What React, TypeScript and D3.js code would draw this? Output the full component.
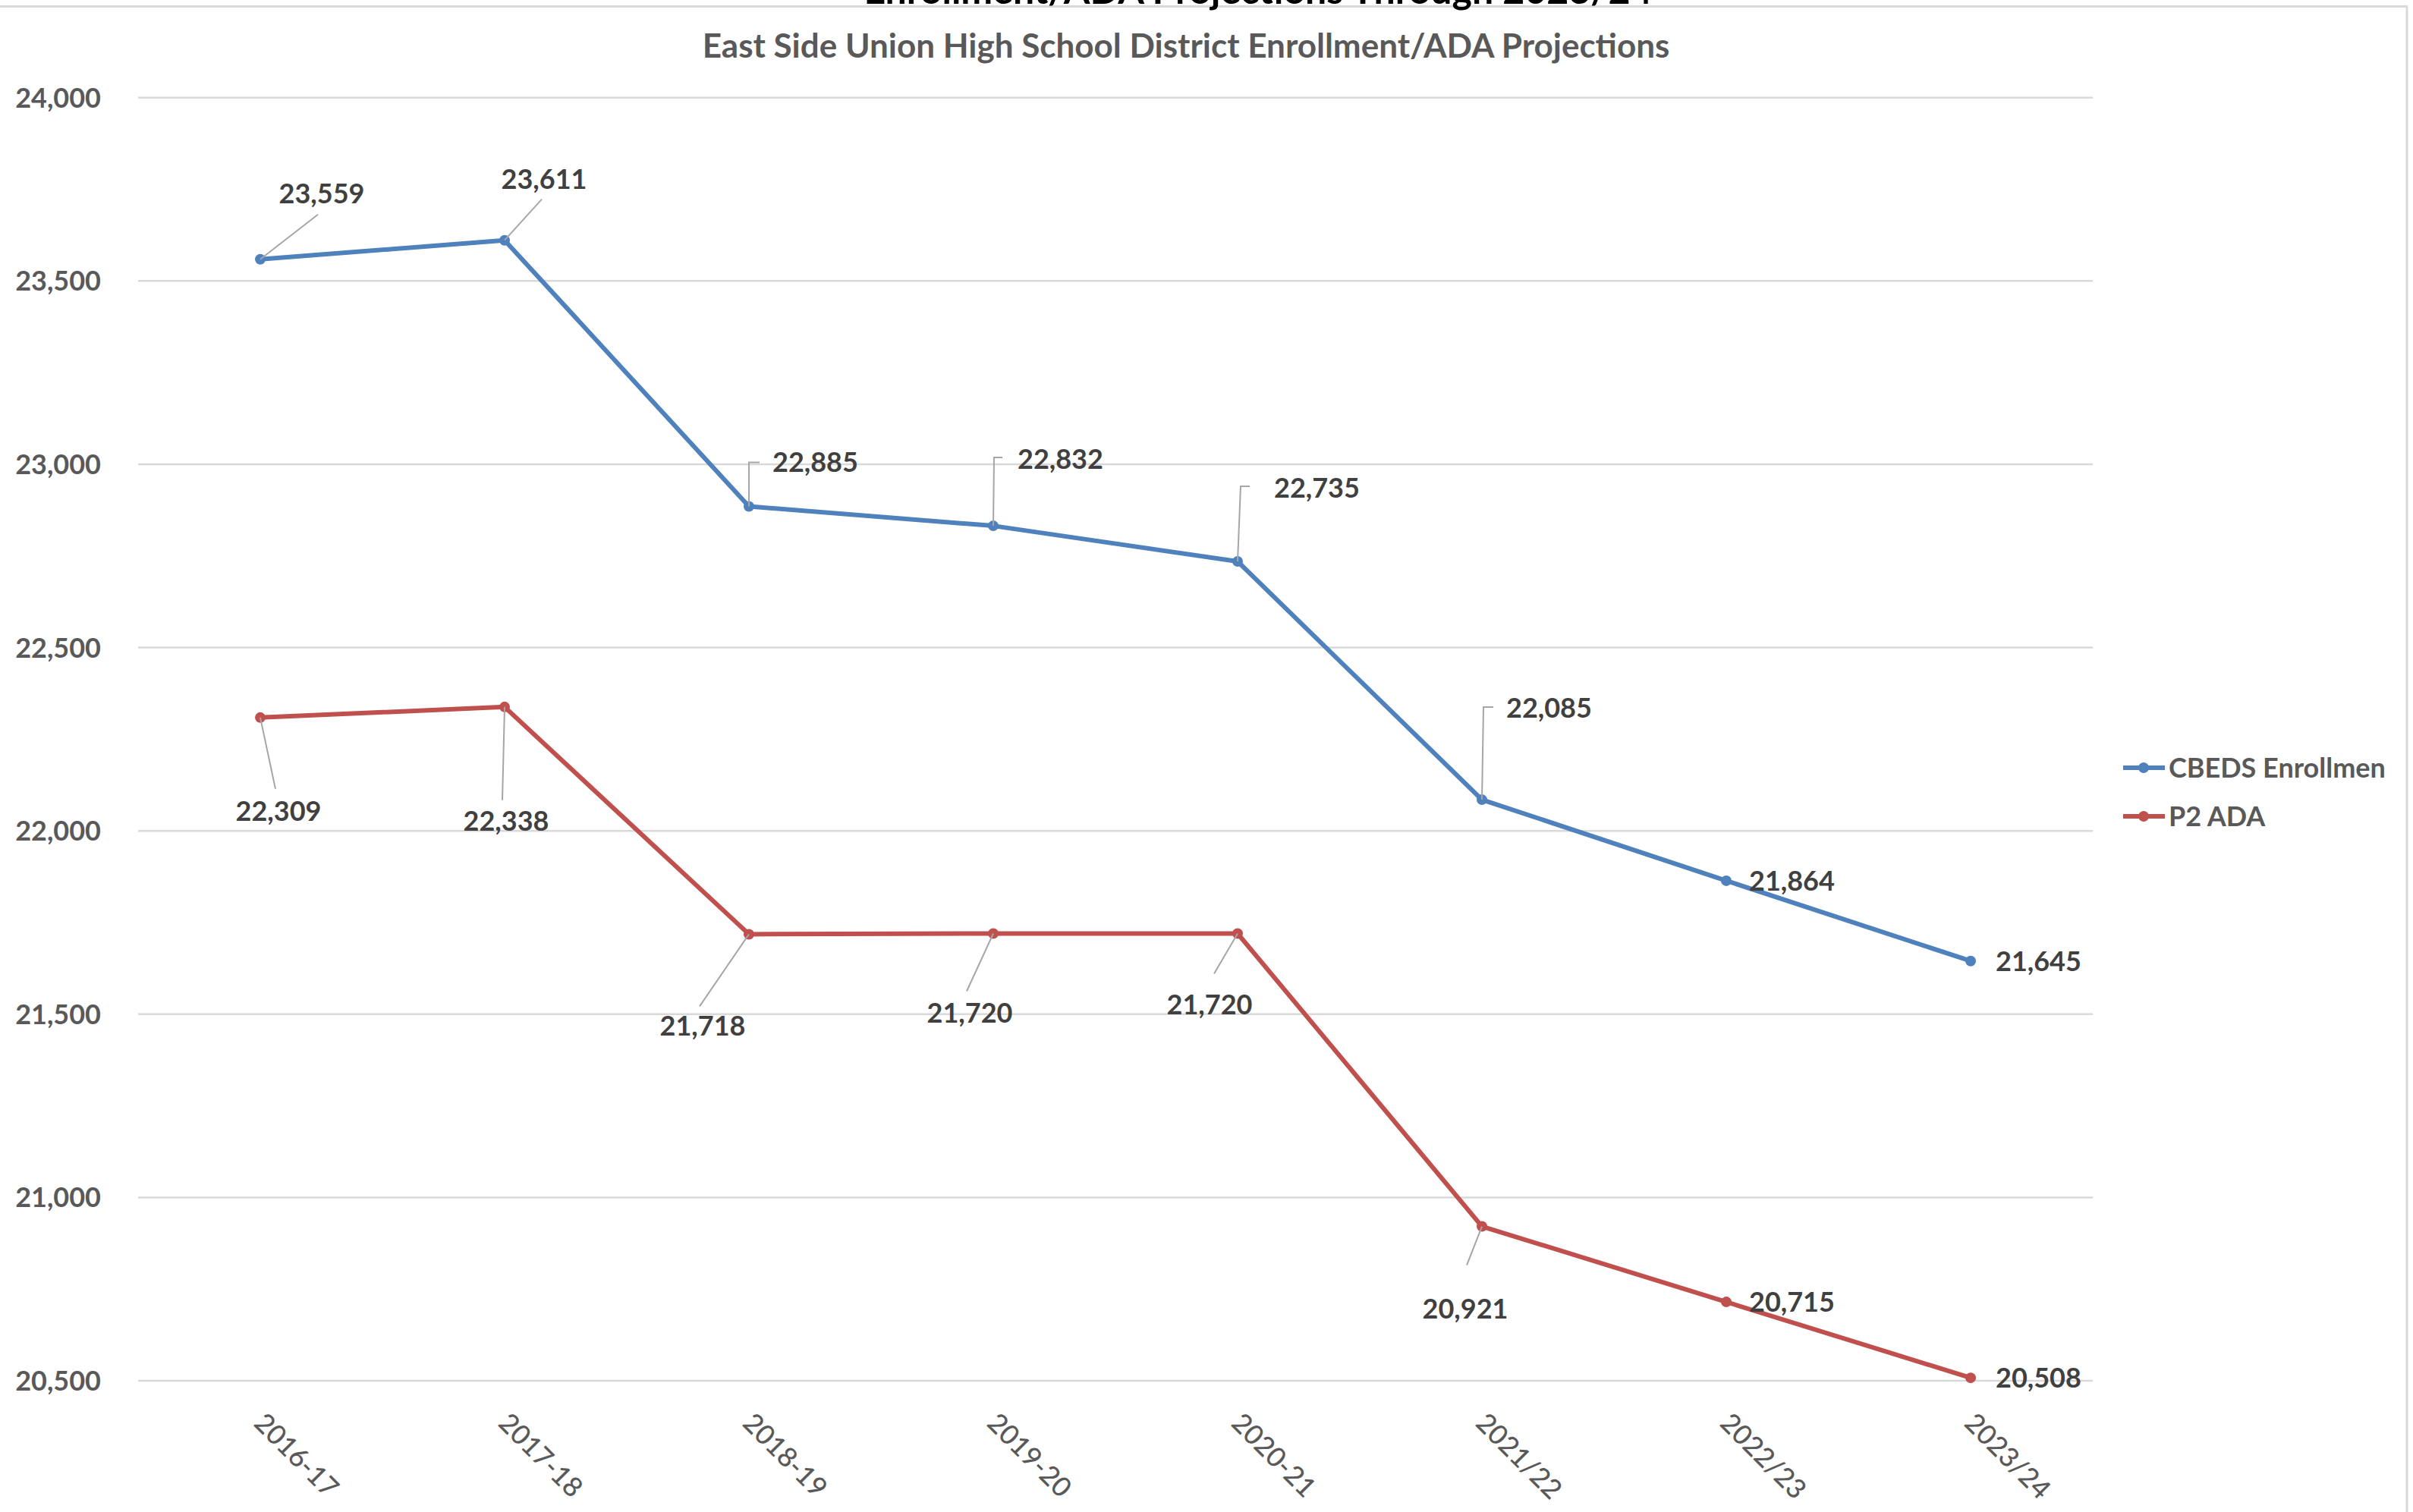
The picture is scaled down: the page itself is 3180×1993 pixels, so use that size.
import React from "react";
import * as d3 from "d3";

const W = 3180;
const H = 1993;
const PLOT = { LEFT: 182, RIGHT: 2758, TOP: 128.7, BOTTOM: 1820 };

const years = ["2016-17", "2017-18", "2018-19", "2019-20", "2020-21", "2021/22", "2022/23", "2023/24"];
const enrollment = [23559, 23611, 22885, 22832, 22735, 22085, 21864, 21645];
const p2ada = [22309, 22338, 21718, 21720, 21720, 20921, 20715, 20508];
const yDomain = [20500, 24000];

const TITLE = "Enrollment/ADA Projections Through 2023/24";
const SUBTITLE = "East Side Union High School District Enrollment/ADA Projections";

// where each data label sits relative to its point (Excel moved some by hand)
type LabelPos = { dx: number; dy: number; anchor: "start" | "middle"; leader?: number[][] };
const blueLabels: LabelPos[] = [
  { dx: 81, dy: -74, anchor: "middle", leader: [[76, -59]] },
  { dx: 52, dy: -68, anchor: "middle", leader: [[49, -54]] },
  { dx: 31, dy: -45, anchor: "start", leader: [[0, -58], [14, -58]] },
  { dx: 32, dy: -75, anchor: "start", leader: [[1, -90], [12, -90]] },
  { dx: 48, dy: -84, anchor: "start", leader: [[4, -99], [16, -99]] },
  { dx: 32, dy: -108, anchor: "start", leader: [[2, -122], [15, -122]] },
  { dx: 30, dy: 13, anchor: "start" },
  { dx: 33, dy: 13, anchor: "start" },
];
const redLabels: LabelPos[] = [
  { dx: 24, dy: 136, anchor: "middle", leader: [[20, 94]] },
  { dx: 2, dy: 163, anchor: "middle", leader: [[-3, 123]] },
  { dx: -61, dy: 134, anchor: "middle", leader: [[-65, 95]] },
  { dx: -31, dy: 118, anchor: "middle", leader: [[-35, 76]] },
  { dx: -37, dy: 107, anchor: "middle", leader: [[-31, 53]] },
  { dx: -22, dy: 121, anchor: "middle", leader: [[-20, 51]] },
  { dx: 30, dy: 13, anchor: "start" },
  { dx: 33, dy: 13, anchor: "start" },
];

const BLUE = "#4f81bd";
const RED = "#c0504d";
const FONT = "Lato, 'Open Sans', sans-serif";

const App: React.FC = () => {
  const x = d3.scalePoint<string>().domain(years).range([PLOT.LEFT, PLOT.RIGHT]).padding(0.5);
  const y = d3.scaleLinear().domain(yDomain).range([PLOT.BOTTOM, PLOT.TOP]);
  const fmt = d3.format(",");

  const series = [
    { name: "CBEDS Enrollmen", values: enrollment, color: BLUE, labels: blueLabels },
    { name: "P2 ADA", values: p2ada, color: RED, labels: redLabels },
  ];

  const line = d3
    .line<number>()
    .x((_, i) => x(years[i])!)
    .y((d) => y(d));

  return (
    <svg width={W} height={H} style={{ position: "absolute", left: 0, top: 0, background: "#fff" }} fontFamily={FONT}>
      {/* chart area border bits */}
      <line x1={0} x2={3173} y1={8.5} y2={8.5} stroke="#d9d9d9" strokeWidth={3} />
      <line x1={3172} x2={3172} y1={8.5} y2={H} stroke="#d9d9d9" strokeWidth={3} />

      <text x={1658} y={5} textAnchor="middle" fontSize={50} fontWeight={700} fill="#000">
        {TITLE}
      </text>
      <text x={1563} y={76} textAnchor="middle" fontSize={44} fontWeight={700} fill="#595959">
        {SUBTITLE}
      </text>

      {/* gridlines + y labels */}
      {y.ticks(7).map((t) => (
        <g key={t}>
          <line x1={PLOT.LEFT} x2={PLOT.RIGHT} y1={y(t)} y2={y(t)} stroke="#d9d9d9" strokeWidth={2.5} />
          <text x={133} y={y(t) + 13} textAnchor="end" fontSize={36} fontWeight={700} fill="#595959">
            {fmt(t)}
          </text>
        </g>
      ))}

      {/* x labels */}
      {years.map((yr) => {
        const tx = x(yr)! - 10;
        const ty = PLOT.BOTTOM + 58;
        return (
          <text key={yr} x={tx} y={ty} transform={`rotate(45 ${tx} ${ty})`} fontSize={36} fontWeight={500} fill="#595959">
            {yr}
          </text>
        );
      })}

      {/* series */}
      {series.map((s) => (
        <g key={s.name}>
          <path d={line(s.values) || ""} fill="none" stroke={s.color} strokeWidth={6} strokeLinejoin="round" />
          {s.values.map((v, i) => (
            <circle key={i} cx={x(years[i])} cy={y(v)} r={7} fill={s.color} />
          ))}
          {s.values.map((v, i) => {
            const px = x(years[i])!;
            const py = y(v);
            const lp = s.labels[i];
            return (
              <g key={"l" + i}>
                {lp.leader && (
                  <polyline
                    points={[[0, 0], ...lp.leader].map((p) => `${px + p[0]},${py + p[1]}`).join(" ")}
                    fill="none"
                    stroke="#a6a6a6"
                    strokeWidth={2}
                  />
                )}
                <text x={px + lp.dx} y={py + lp.dy} textAnchor={lp.anchor} fontSize={36} fontWeight={700} fill="#404040">
                  {fmt(v)}
                </text>
              </g>
            );
          })}
        </g>
      ))}

      {/* legend */}
      {series.map((s, i) => {
        const ly = 1012 + i * 64;
        return (
          <g key={"lg" + s.name}>
            <line x1={2798} x2={2853} y1={ly} y2={ly} stroke={s.color} strokeWidth={6} />
            <circle cx={2825} cy={ly} r={7} fill={s.color} />
            <text x={2858} y={ly + 13} fontSize={36} fontWeight={700} fill="#595959">
              {s.name}
            </text>
          </g>
        );
      })}
    </svg>
  );
};

export default App;
